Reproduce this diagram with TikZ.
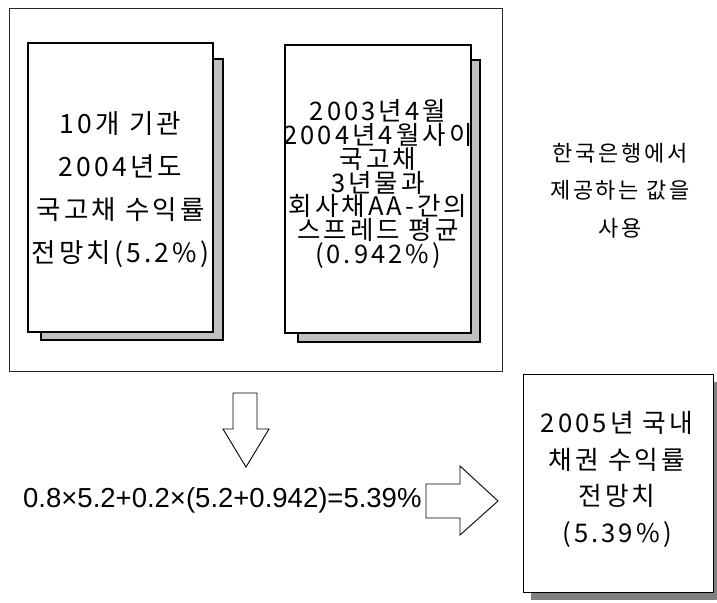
\documentclass[tikz,border=0pt]{standalone}
\usepackage{fontspec}
\setmainfont{Liberation Sans}
\newfontfamily\kr[LetterSpace=12]{Noto Sans CJK KR}
\definecolor{lightshade}{HTML}{C0C0C0}
\definecolor{darkshade}{HTML}{808080}
\begin{document}
\begin{tikzpicture}[x=1pt,y=-1pt,
  docbox/.style={draw=black, line width=1.3pt, fill=white, inner sep=0pt, align=center},
  shadowbox/.style={draw=black, line width=1.3pt, fill=lightshade},
  blockarrow/.style={draw=black, line width=0.9pt, fill=white, line join=miter},
  plain/.style={inner sep=0pt, align=center}]
\useasboundingbox (0,0) rectangle (717,602);
% outer frame
\node[draw=black!85, line width=0.9pt, minimum width=493pt, minimum height=363pt, inner sep=0pt] (frame) at (255.5,189.5) {};
% left document
\draw[shadowbox] (41,59) rectangle (223,340);
\node[docbox, minimum width=185pt, minimum height=289pt] (left) at (120.5,187.5) {};
\node[plain, font={\kr\fontsize{26.5}{43}\selectfont}] (lefttext) at (120.5,189.5)
  {10개 기관\\2004년도\\국고채 수익률\\전망치(5.2\%)};
% right document
\draw[shadowbox] (298,60) rectangle (480,342);
\node[docbox, minimum width=186pt, minimum height=288pt] (right) at (378,189) {};
\node[plain, font={\kr\fontsize{25.5}{23.7}\selectfont}] (righttext) at (378,184)
  {2003년4월\\2004년4월사이\\국고채\\3년물과\\회사채AA-간의\\스프레드 평균\\(0.942\%)};
% side note
\node[plain, font={\kr\fontsize{22}{37.5}\selectfont}] (note) at (620,190.5) {한국은행에서\\제공하는 값을\\사용};
% down arrow
\draw[blockarrow] (233,393) -- (257,393) -- (257,429) -- (269,429) -- (246,467) -- (223,429) -- (233,429) -- cycle;
% formula
\node[plain, anchor=west, font={\fontsize{27.5}{30}\selectfont}] (formula) at (23,500) {0.8×5.2+0.2×(5.2+0.942)=5.39\%};
% right arrow
\draw[blockarrow] (426,484) -- (460,484) -- (460,466) -- (498,501) -- (460,535) -- (460,518) -- (426,518) -- cycle;
% result box
\fill[darkshade] (531,382) rectangle (717,600);
\node[docbox, line width=1pt, minimum width=190pt, minimum height=218pt] (result) at (618,483) {};
\node[plain, font={\kr\fontsize{25.7}{36.7}\selectfont}] (resulttext) at (617,479.5)
  {2005년 국내\\채권 수익률\\전망치\\(5.39\%)};
\end{tikzpicture}
\end{document}
